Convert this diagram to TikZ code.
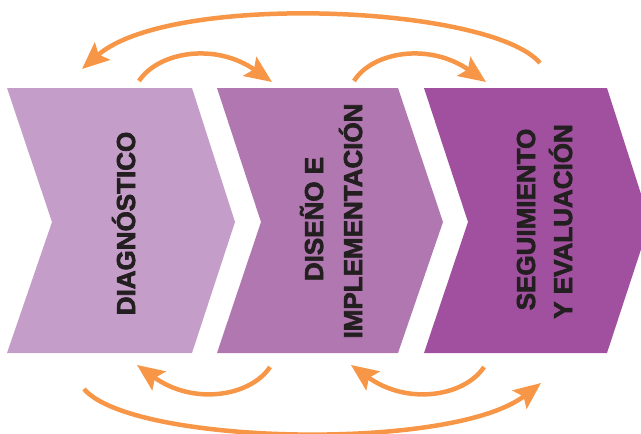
\documentclass[tikz,border=0pt]{standalone}
\usepackage{fontspec}
\newfontfamily\heavy{Liberation Sans}[UprightFont=* Bold, FakeBold=2.6]
\usetikzlibrary{arrows.meta}
\definecolor{chevA}{HTML}{C49EC8}
\definecolor{chevB}{HTML}{B077B0}
\definecolor{chevC}{HTML}{A0509E}
\definecolor{arrowc}{HTML}{F79646}
\definecolor{txt}{HTML}{231F20}
\tikzset{
  chev/.style={draw=none},
  lbl/.style={rotate=90, anchor=base, inner sep=0pt, text=txt,
    font=\heavy\fontsize{26}{37}\selectfont},
  loop/.style={draw=arrowc, line width=4.5pt,
    -{Stealth[length=27pt, width=23pt, inset=5pt]}}
}
\begin{document}
\begin{tikzpicture}[x=1pt,y=-1pt]
\useasboundingbox (0,0) rectangle (641,434);
\clip (0,0) rectangle (641,434);
% chevrons
\fill[chev, chevA] (7,88) -- (192,88) -- (235,222) -- (192,353) -- (7,353) -- (52,222) -- cycle;
\fill[chev, chevB] (217,88) -- (398,88) -- (443,222) -- (398,353) -- (217,353) -- (261,222) -- cycle;
\fill[chev, chevC] (424,88) -- (607,88) -- (650,222) -- (607,353) -- (424,353) -- (468,222) -- cycle;
% labels
\node[lbl] (diag) at (135,223.5) {DIAGNÓSTICO};
\node[lbl] (dis1) at (323,219) {DISEÑO E};
\node[lbl] (dis2) at (362,221) {IMPLEMENTACIÓN};
\node[lbl] (seg1) at (535,219.5) {SEGUIMIENTO};
\node[lbl] (seg2) at (572,221.5) {Y EVALUACIÓN};
% arrow end points
\coordinate (t1s) at (139,81);  \coordinate (t1e) at (272,82);
\coordinate (t2s) at (354,81);  \coordinate (t2e) at (486,82);
\coordinate (tbs) at (540,63);  \coordinate (tbe) at (82,69);
\coordinate (b1s) at (270,367); \coordinate (b1e) at (137,365);
\coordinate (b2s) at (484,367); \coordinate (b2e) at (351,365);
\coordinate (bbs) at (84,389);  \coordinate (bbe) at (541,383);
% arrows
\draw[loop] (t1s) .. controls (158,52) and (215,42) .. (t1e);
\draw[loop] (t2s) .. controls (372,52) and (429,42) .. (t2e);
\draw[loop] (tbs) .. controls (490,5) and (170,-8) .. (tbe);
\draw[loop] (b1s) .. controls (251,396) and (194,406) .. (b1e);
\draw[loop] (b2s) .. controls (465,396) and (408,406) .. (b2e);
\draw[loop] (bbs) .. controls (132,445) and (452,452) .. (bbe);
\end{tikzpicture}
\end{document}
